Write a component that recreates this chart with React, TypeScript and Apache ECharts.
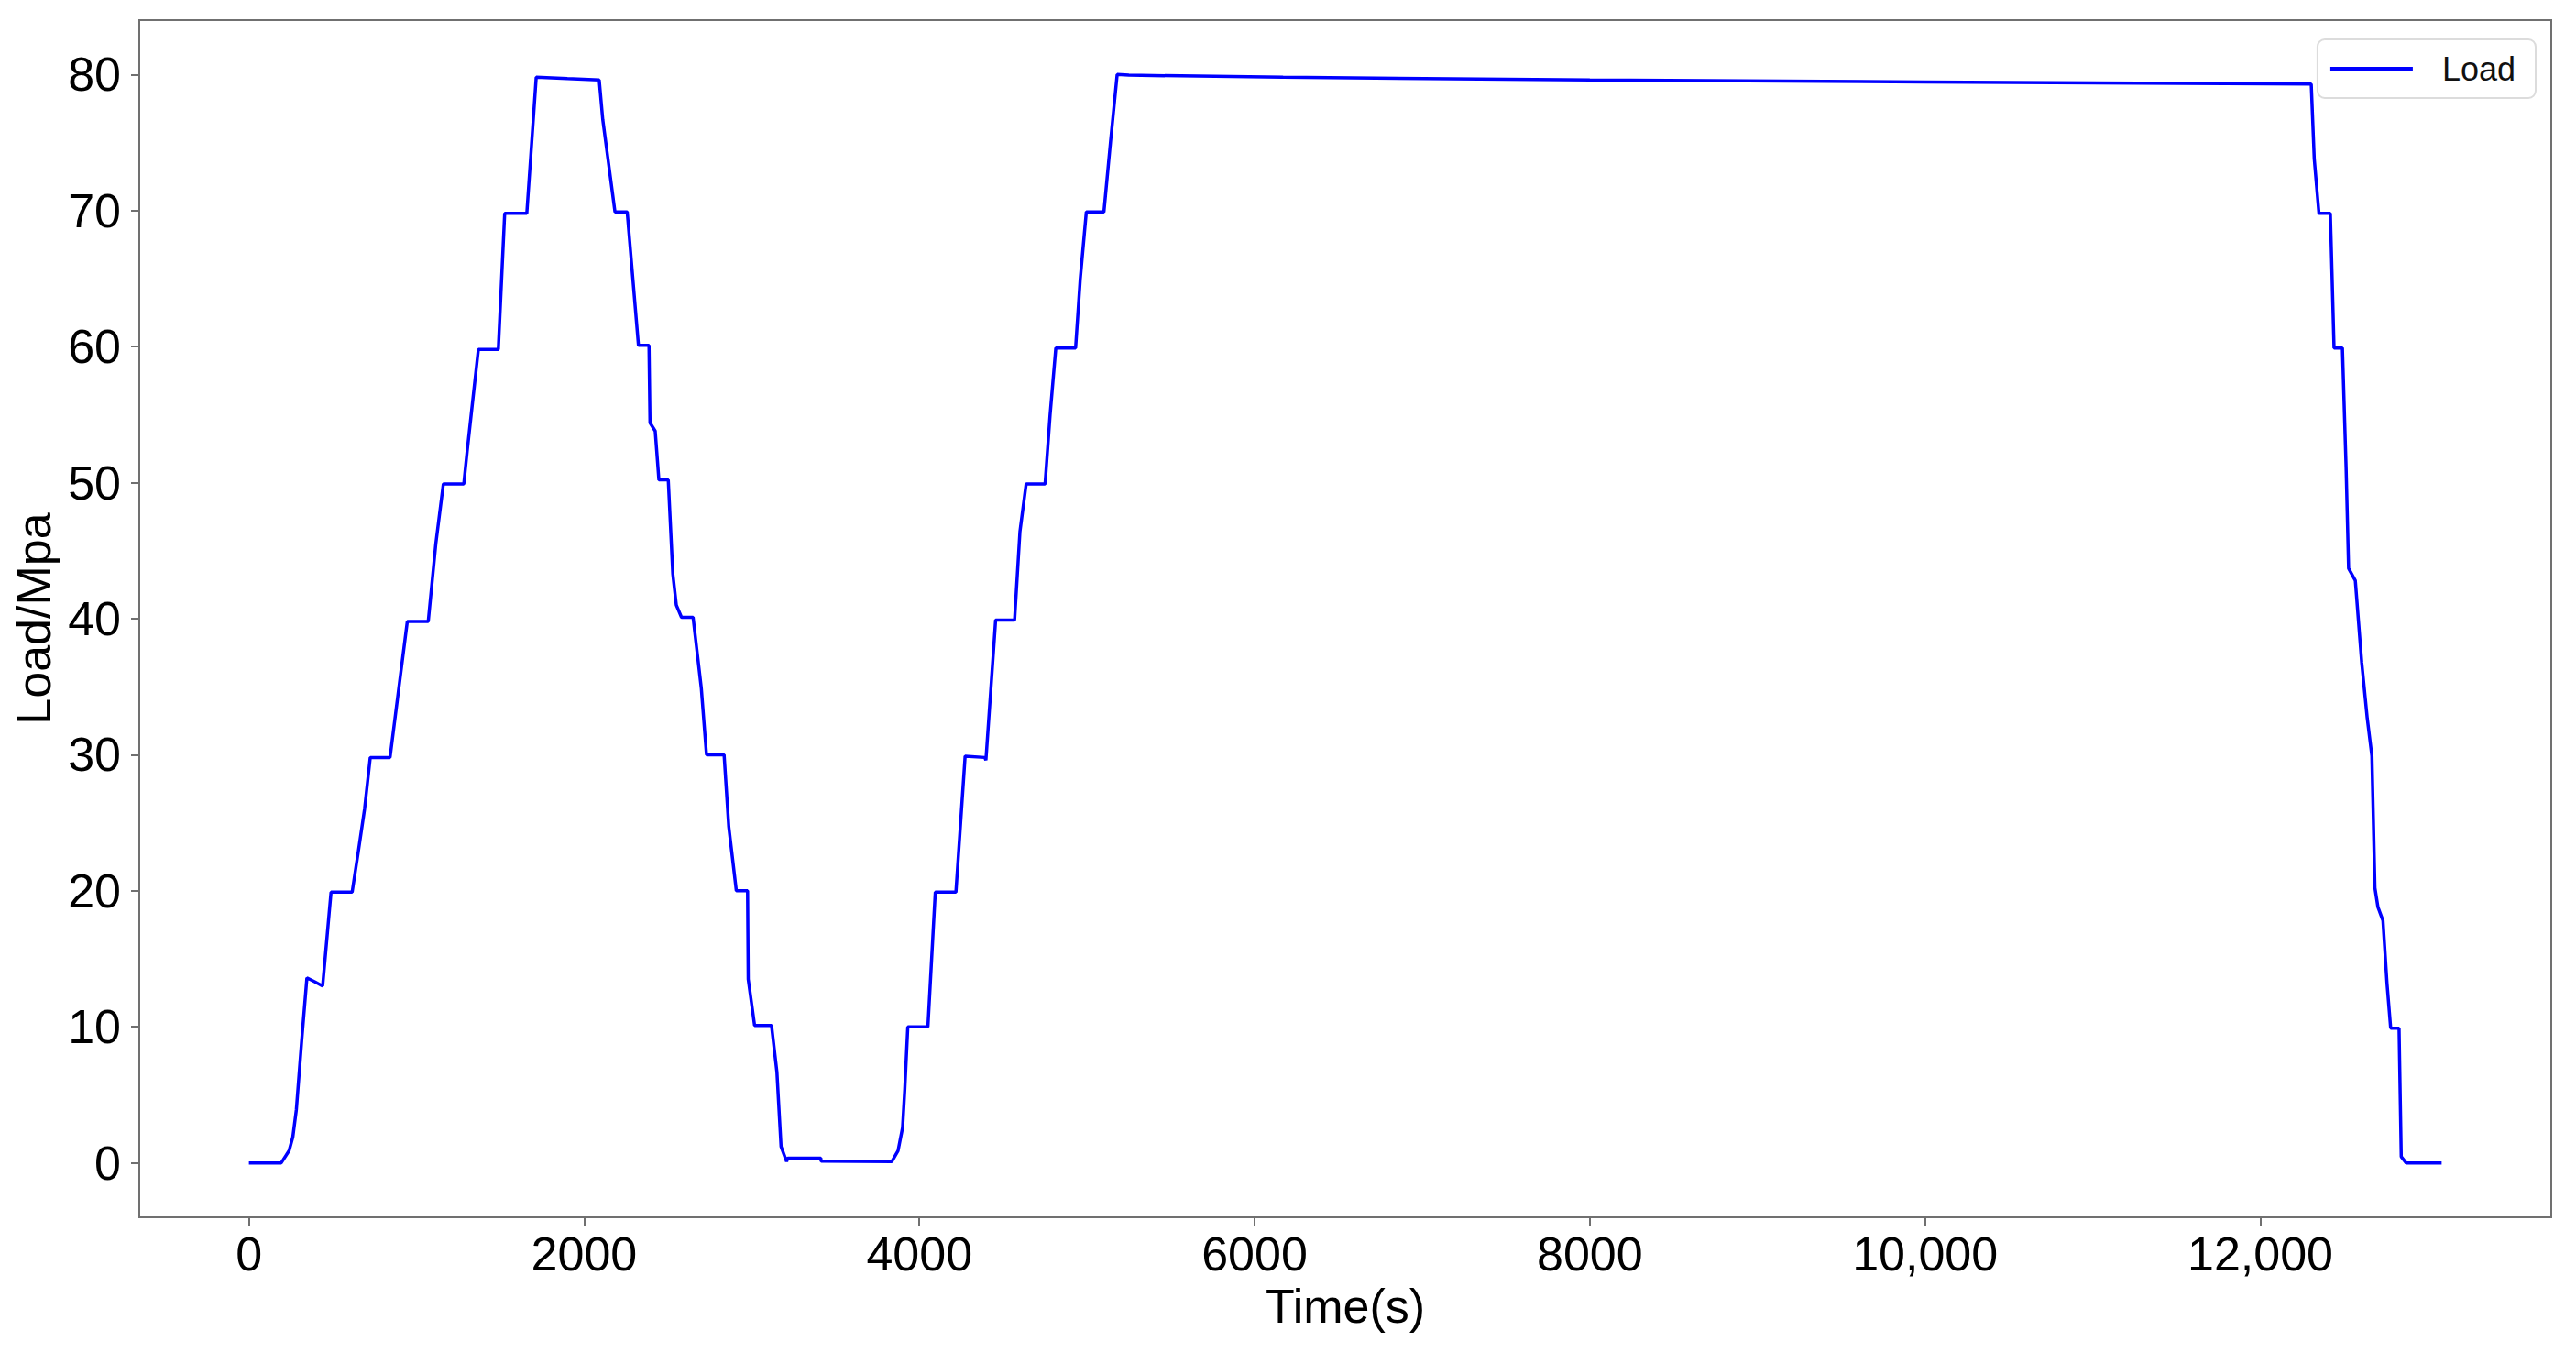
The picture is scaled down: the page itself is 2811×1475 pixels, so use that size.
import React, { useEffect, useRef } from "react";
import * as echarts from "echarts";

// ---- data ----
const timeS: number[] = [
  0, 193, 240, 262, 283, 315, 346, 395, 440, 490, 616, 653, 690, 724, 842, 880, 945, 1070,
  1115, 1160, 1282, 1302, 1369, 1488, 1526, 1658, 1714, 1900, 2090, 2111, 2184, 2257, 2324,
  2387, 2393, 2424, 2446, 2502, 2529, 2550, 2581, 2650, 2699, 2730, 2835, 2863, 2908, 2975,
  2979, 3017, 3118, 3150, 3175, 3208, 3215, 3412, 3414, 3836, 3873, 3900, 3913, 3931, 4051,
  4095, 4218, 4273, 4390, 4397, 4455, 4568, 4600, 4637, 4750, 4780, 4814, 4932, 4960, 4996,
  5101, 5140, 5180, 5250, 6170, 8000, 10000, 12304, 12322, 12350, 12418, 12440, 12490, 12512,
  12527, 12567, 12605, 12638, 12666, 12684, 12702, 12732, 12756, 12778, 12828, 12841, 12870,
  13082,
];
const loadMpa: number[] = [
  0, 0, 0.9, 1.9, 3.9, 9.0, 13.6, 13.3, 13.0, 19.9, 19.9, 22.9, 26.0, 29.8, 29.8, 33.5, 39.8, 39.8,
  45.5, 49.9, 49.9, 52.3, 59.8, 59.8, 69.8, 69.8, 79.8, 79.7, 79.6, 76.7, 69.9, 69.9, 60.1,
  60.1, 54.4, 53.8, 50.2, 50.2, 43.3, 41.0, 40.1, 40.1, 34.9, 30.0, 30.0, 24.7, 20.0, 20.0,
  13.5, 10.1, 10.1, 6.7, 1.2, 0.1, 0.35, 0.35, 0.13, 0.1, 0.9, 2.6, 5.4, 10.0, 10.0,
  19.9, 19.9, 29.9, 29.8, 29.6, 39.9, 39.9, 46.4, 49.9, 49.9, 55.0, 59.9, 59.9, 65.0, 69.9,
  69.9, 75.0, 80.0, 79.95, 79.8, 79.6, 79.45, 79.3, 73.8, 69.8, 69.8, 59.9, 59.9, 51.1,
  43.7, 42.8, 36.8, 32.7, 29.9, 20.2, 18.8, 17.8, 13.2, 9.9, 9.9, 0.46, 0,
  0,
];
const seriesName = "Load";
const xTicks: number[] = [0, 2000, 4000, 6000, 8000, 10000, 12000];
const xTickLabels: string[] = ["0", "2000", "4000", "6000", "8000", "10,000", "12,000"];
const yTicks: number[] = [0, 10, 20, 30, 40, 50, 60, 70, 80];
const xName = "Time(s)";
const yName = "Load/Mpa";

const FONT = "'Liberation Sans', Arial, sans-serif";

export default function App() {
  const ref = useRef<HTMLDivElement>(null);
  useEffect(() => {
    if (!ref.current) return;
    const chart = echarts.init(ref.current, null, { renderer: "svg" });
    const data = timeS.map((t, i) => [t, loadMpa[i]]);
    const xMax = timeS[timeS.length - 1];
    const xPad = xMax * 0.05;
    chart.setOption({
      animation: false,
      backgroundColor: "#ffffff",
      grid: {
        left: 152,
        right: 27,
        top: 22,
        bottom: 147,
        show: true,
        borderColor: "#707070",
        borderWidth: 2,
        backgroundColor: "transparent",
      },
      legend: {
        show: true,
        right: 44,
        top: 43,
        padding: [14, 22, 14, 14],
        itemWidth: 90,
        itemHeight: 14,
        borderColor: "#dcdcdc",
        borderWidth: 2,
        borderRadius: 8,
        backgroundColor: "#ffffff",
        textStyle: { fontFamily: FONT, fontSize: 36, color: "#111", padding: [0, 0, 0, 27] },
        data: [{ name: seriesName, icon: "path://M0,0 L90,0 L90,4 L0,4 Z" }],
      },
      xAxis: {
        type: "value",
        min: -Math.round(xPad),
        max: Math.round(xMax + xPad),
        name: xName,
        nameLocation: "middle",
        nameGap: 62,
        nameTextStyle: { fontFamily: FONT, fontSize: 52, color: "#000" },
        splitLine: { show: false },
        axisLine: { show: true, onZero: false, lineStyle: { color: "#707070", width: 2 } },
        axisTick: {
          show: true,
          length: 9,
          customValues: xTicks,
          lineStyle: { color: "#707070", width: 2 },
        },
        axisLabel: {
          customValues: xTicks,
          margin: 14,
          fontFamily: FONT,
          fontSize: 52,
          color: "#000",
          formatter: (v: number) => {
            const i = xTicks.indexOf(v);
            return i >= 0 ? xTickLabels[i] : "";
          },
        },
      },
      yAxis: {
        type: "value",
        min: -4,
        max: 84,
        name: yName,
        nameLocation: "middle",
        nameGap: 84,
        nameRotate: 90,
        nameTextStyle: { fontFamily: FONT, fontSize: 52, color: "#000" },
        splitLine: { show: false },
        axisLine: { show: true, onZero: false, lineStyle: { color: "#707070", width: 2 } },
        axisTick: {
          show: true,
          length: 9,
          customValues: yTicks,
          lineStyle: { color: "#707070", width: 2 },
        },
        axisLabel: {
          customValues: yTicks,
          margin: 20,
          fontFamily: FONT,
          fontSize: 52,
          color: "#000",
        },
      },
      series: [
        {
          name: seriesName,
          type: "line",
          data,
          showSymbol: false,
          symbol: "none",
          color: "#0000ff",
          lineStyle: { color: "#0000ff", width: 3.5 },
        },
      ],
    });
    return () => chart.dispose();
  }, []);
  return (
    <div
      ref={ref}
      style={{ position: "fixed", left: 0, top: 0, width: 2811, height: 1475, background: "#fff" }}
    />
  );
}
